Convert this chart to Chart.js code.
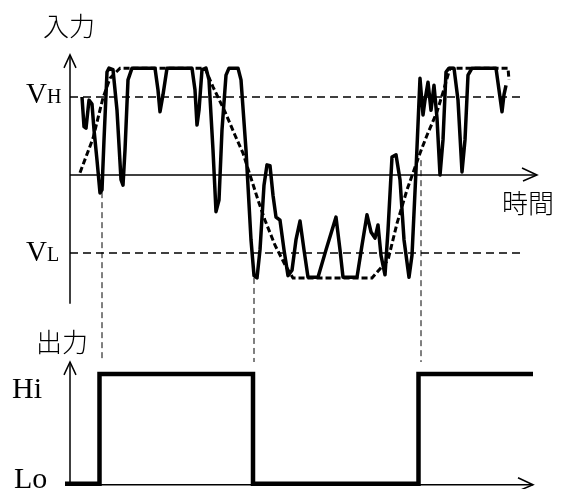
<!DOCTYPE html>
<html>
<head>
<meta charset="utf-8">
<script src="https://cdn.jsdelivr.net/npm/chart.js@4.4.0/dist/chart.umd.min.js"></script>
<style>
    html, body { margin: 0; padding: 0; background: #fff; }
    canvas { display: block; }
</style>
</head>
<body>
<canvas id="myChart01" width="572" height="489"></canvas>
<script>
// input signal: time (ms) and voltage (V, threshold units)
const tInput = [12, 14, 16, 19, 22, 24, 27, 30, 32, 34, 37, 39, 43, 47, 51, 53, 55, 58, 62, 85,
    88, 90, 93, 97, 122, 125, 127, 129, 132, 136, 139, 143, 146, 149, 152, 156, 159, 168, 171, 176,
    181, 184, 187, 190, 194, 197, 200, 203, 206, 210, 214, 218, 222, 226, 230, 234, 238, 248, 256, 266,
    270, 273, 287, 292, 297, 301, 305, 308, 311, 315, 318, 322, 326, 330, 334, 339, 342, 346, 350, 353,
    355, 358, 361, 364, 367, 370, 373, 376, 379, 384, 388, 392, 395, 398, 402, 426, 429, 432, 434, 436];
const vInput = [1.00, 0.62, 0.60, 0.96, 0.91, 0.58, 0.19, -0.23, -0.19, 0.45, 1.32, 1.37, 1.35, 0.83, -0.06, -0.13, 0.32, 1.22, 1.37, 1.37,
    1.09, 0.81, 1.03, 1.37, 1.37, 1.09, 0.64, 0.83, 1.35, 1.37, 1.22, 0.32, -0.47, -0.32, 0.58, 1.28, 1.37, 1.37, 1.22, 0.32,
    -0.83, -1.29, -1.32, -0.96, -0.13, 0.13, 0.12, -0.26, -0.54, -0.58, -0.96, -1.29, -1.22, -0.83, -0.59, -0.96, -1.31, -1.31, -0.96, -0.54,
    -0.96, -1.31, -1.31, -0.90, -0.51, -0.73, -0.81, -0.64, -1.03, -1.28, -0.71, 0.23, 0.26, -0.06, -0.83, -1.31, -1.03, 0.06, 1.24, 0.77,
    0.96, 1.19, 0.83, 1.15, 0.73, 0.00, 0.45, 1.32, 1.37, 1.37, 0.96, 0.04, 0.45, 1.28, 1.37, 1.37, 1.09, 0.81, 1.03, 1.15];

// smoothed trend of the input
const tTrend = [10, 23, 33, 40, 50, 135, 143, 155, 165, 173, 180, 188, 195, 205, 215, 223, 302, 318, 327, 337, 350, 357, 367, 373, 380, 438, 439];
const vTrend = [0.03, 0.47, 0.99, 1.24, 1.37, 1.37, 1.13, 0.81, 0.51, 0.28, 0.00, -0.32, -0.58, -0.90, -1.15, -1.32, -1.32, -1.09, -0.62, -0.19, 0.28, 0.51, 0.81, 1.06, 1.37, 1.37, 1.22];

// thresholds
const vHigh = 1;
const vLow = -1;
const tThreshold = [0, 455];

// output: Lo = 0, Hi = 1
const tOutput = [-5, 29.5, 183, 348.5, 463];
const levelOutput = [0, 1, 0, 1, 1];

// switching instants and the input level where each guide starts
const tSwitch = [32, 184, 351];
const vSwitch = [-0.22, -1.32, 0.19];

function pares(xs, ys) {
    return xs.map((t, i) => ({ x: t, y: ys[i] }));
}

function linea(ctx, x1, y1, x2, y2) {
    ctx.beginPath();
    ctx.moveTo(x1, y1);
    ctx.lineTo(x2, y2);
    ctx.stroke();
}

function flechaArriba(ctx, x, y) {
    ctx.beginPath();
    ctx.moveTo(x - 6, y + 13);
    ctx.lineTo(x, y);
    ctx.lineTo(x + 6, y + 13);
    ctx.stroke();
}

function flechaDerecha(ctx, x, y) {
    ctx.beginPath();
    ctx.moveTo(x - 15, y - 7);
    ctx.lineTo(x, y);
    ctx.lineTo(x - 14, y + 6);
    ctx.stroke();
}

// axes, arrows, guides and texts
const ejes = {
    id: 'ejes',
    beforeDatasetsDraw(chart) {
        const ctx = chart.ctx;
        const x = chart.scales.x, y = chart.scales.y, yo = chart.scales.yOut;
        const x0 = x.getPixelForValue(0);

        ctx.save();
        ctx.strokeStyle = '#000';
        ctx.lineWidth = 1.5;

        // input panel
        const yTop = y.getPixelForValue(1.54);
        linea(ctx, x0, yTop, x0, y.getPixelForValue(-1.65));
        flechaArriba(ctx, x0, yTop);
        const yZero = y.getPixelForValue(0);
        const xEnd1 = x.getPixelForValue(467);
        linea(ctx, x0, yZero, xEnd1, yZero);
        flechaDerecha(ctx, xEnd1, yZero);

        // output panel
        const yTop2 = yo.getPixelForValue(1.11);
        linea(ctx, x0, yTop2, x0, yo.getPixelForValue(0));
        flechaArriba(ctx, x0, yTop2);
        const yLo = yo.getPixelForValue(0) + 1;
        const xEnd2 = x.getPixelForValue(463);
        linea(ctx, x0, yLo, xEnd2, yLo);
        flechaDerecha(ctx, xEnd2, yLo);

        // switching guides
        ctx.lineWidth = 1;
        ctx.setLineDash([6, 4]);
        tSwitch.forEach((t, i) => {
            const px = x.getPixelForValue(t);
            linea(ctx, px, y.getPixelForValue(vSwitch[i]), px, yo.getPixelForValue(1) - 12);
        });
        ctx.restore();
    },
    afterDraw(chart) {
        const ctx = chart.ctx;
        const y = chart.scales.y, yo = chart.scales.yOut;
        ctx.save();
        ctx.fillStyle = '#000';
        ctx.textBaseline = 'alphabetic';

        ctx.font = '300 26px "Noto Sans CJK JP"';
        ctx.fillText('入力', 43, 36);
        ctx.fillText('出力', 36, 352);
        ctx.fillText('時間', 502, 213);

        // V with small subscript letter
        const rotulo = (letra, yb) => {
            ctx.font = '29px "Liberation Serif"';
            ctx.fillText('V', 26, yb);
            const w = ctx.measureText('V').width;
            ctx.font = '20px "Liberation Serif"';
            ctx.fillText(letra, 26 + w, yb);
        };
        rotulo('H', y.getPixelForValue(vHigh) + 6);
        rotulo('L', y.getPixelForValue(vLow) + 8);

        ctx.font = '30px "Liberation Serif"';
        ctx.fillText('Hi', 12, yo.getPixelForValue(1) + 24);
        ctx.fillText('Lo', 14, yo.getPixelForValue(0) + 4);
        ctx.restore();
    }
};

let myChart1;
function show_grafico_01() {
    if (myChart1) myChart1.destroy();

    const grafica = document.querySelector('#myChart01');

    const umbralH = {
        data: pares(tThreshold, [vHigh, vHigh]),
        borderColor: '#000', borderWidth: 1.5, borderDash: [8, 5], yAxisID: 'y'
    };
    const umbralL = {
        data: pares(tThreshold, [vLow, vLow]),
        borderColor: '#000', borderWidth: 1.5, borderDash: [8, 5], yAxisID: 'y'
    };
    const tendencia = {
        data: pares(tTrend, vTrend),
        borderColor: '#000', borderWidth: 3, borderDash: [6, 3], yAxisID: 'y'
    };
    const entrada = {
        data: pares(tInput, vInput),
        borderColor: '#000', borderWidth: 3.5, borderJoinStyle: 'round', yAxisID: 'y'
    };
    const salida = {
        data: pares(tOutput, levelOutput),
        borderColor: '#000', borderWidth: 4.5, stepped: 'before', yAxisID: 'yOut'
    };

    myChart1 = new Chart(grafica, {
        type: 'line',
        data: {
            datasets: [umbralH, umbralL, tendencia, entrada, salida]
        },
        options: {
            responsive: false,
            animation: false,
            events: [],
            layout: { padding: 0 },
            elements: {
                point: { radius: 0 },
                line: { tension: 0, fill: false }
            },
            plugins: {
                legend: { display: false },
                tooltip: { enabled: false }
            },
            scales: {
                x: { type: 'linear', display: false, min: -70, max: 502 },
                y: { type: 'linear', display: false, min: -314 / 78, max: 175 / 78 },
                yOut: { type: 'linear', display: false, min: -5.3 / 109.7, max: 483.7 / 109.7 }
            }
        },
        plugins: [ejes]
    });
}

show_grafico_01();
</script>
</body>
</html>
